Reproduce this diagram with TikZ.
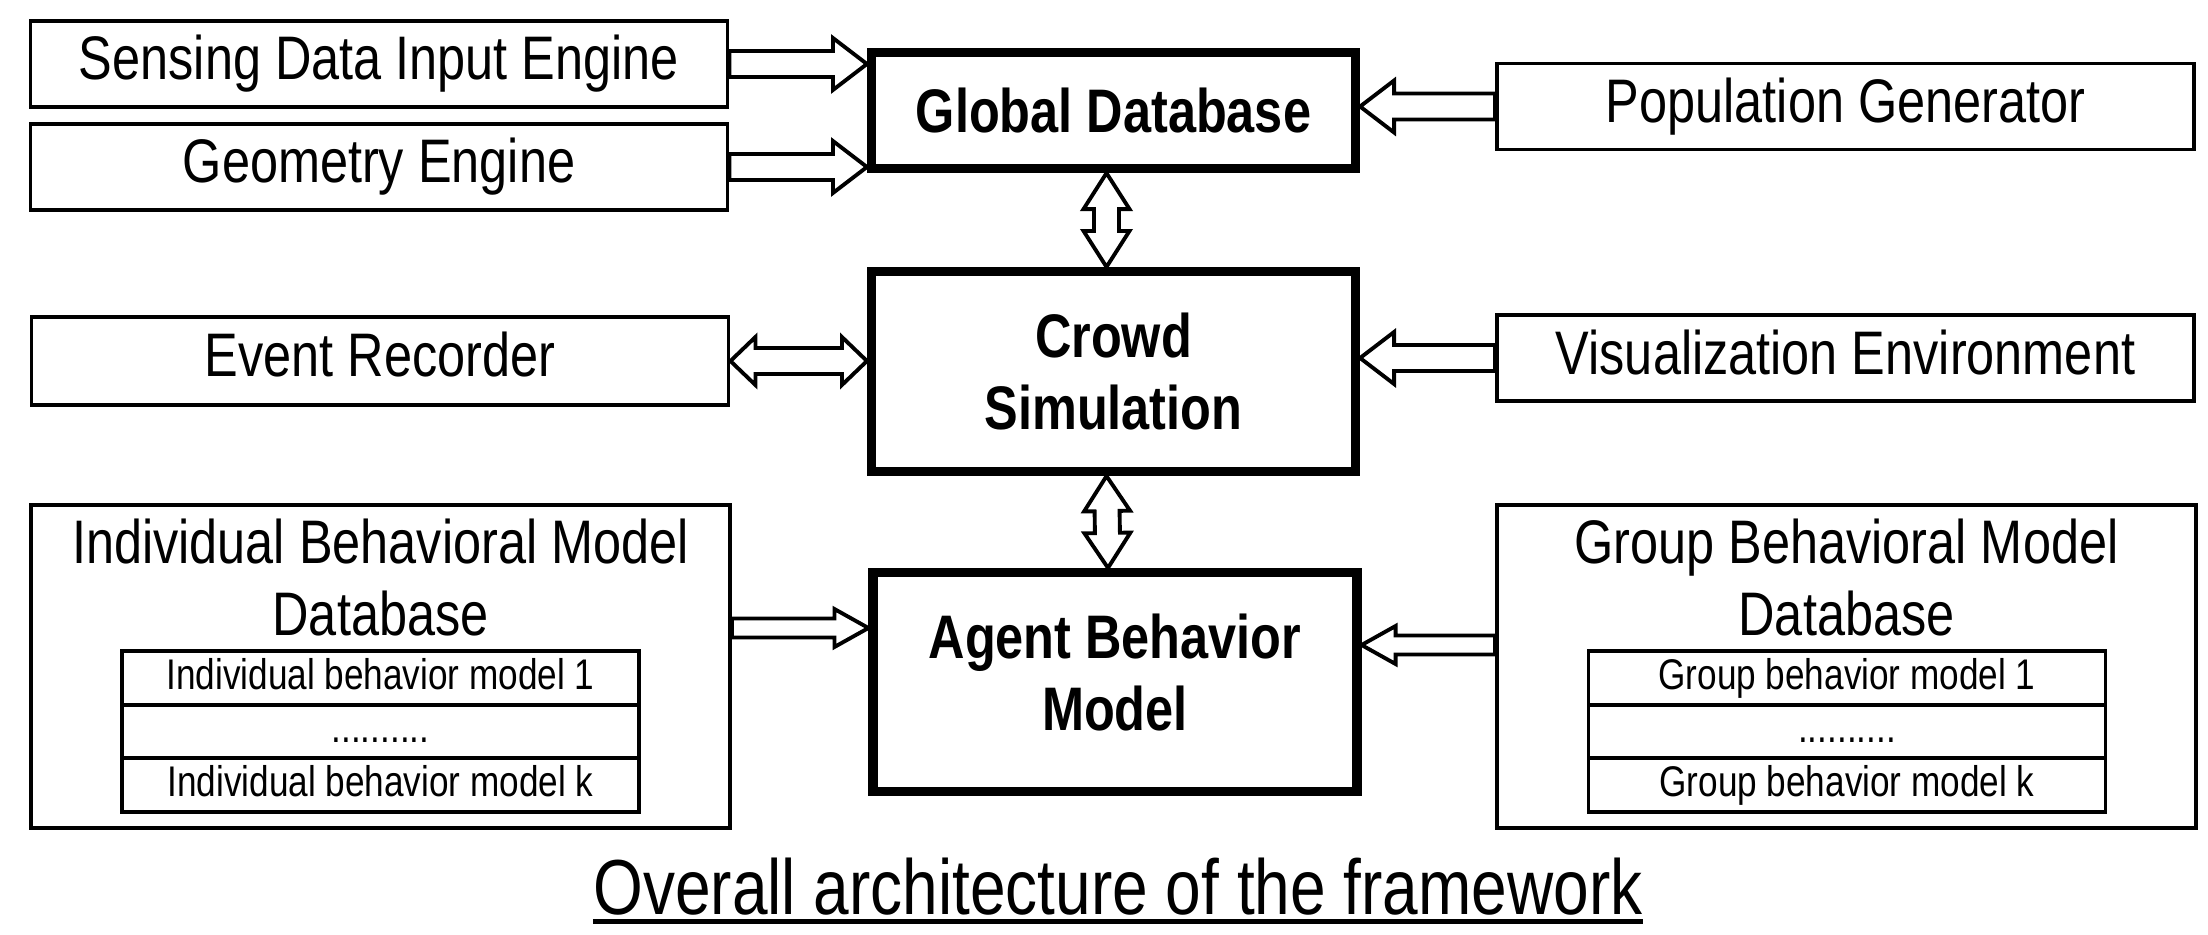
\documentclass[tikz,border=0pt]{standalone}
\usepackage{fontspec}
\setmainfont{Liberation Sans}[FakeStretch=0.82]
\usetikzlibrary{positioning,calc}

% hollow block arrows, drawn as outlines between two points
\tikzset{
  shaft/.store in=\shaftw, shaft=1.3mm,
  wing/.store in=\wingw, wing=2.6mm,
  tiplen/.store in=\tiplen, tiplen=3.4mm,
  fatarrow/.style={draw, line width=1.1pt, line join=miter, to path={
      ($(\tikztostart)!\shaftw!90:(\tikztotarget)$)
      -- ($($(\tikztotarget)!\tiplen!(\tikztostart)$)!\shaftw!90:(\tikztotarget)$)
      -- ($($(\tikztotarget)!\tiplen!(\tikztostart)$)!\wingw!90:(\tikztotarget)$)
      -- (\tikztotarget)
      -- ($($(\tikztotarget)!\tiplen!(\tikztostart)$)!\wingw!-90:(\tikztotarget)$)
      -- ($($(\tikztotarget)!\tiplen!(\tikztostart)$)!\shaftw!-90:(\tikztotarget)$)
      -- ($(\tikztostart)!\shaftw!-90:(\tikztotarget)$) -- cycle}},
  fatdouble/.style={draw, line width=1.1pt, line join=miter, to path={
      (\tikztostart)
      -- ($($(\tikztostart)!\tiplen!(\tikztotarget)$)!\wingw!90:(\tikztotarget)$)
      -- ($($(\tikztostart)!\tiplen!(\tikztotarget)$)!\shaftw!90:(\tikztotarget)$)
      -- ($($(\tikztotarget)!\tiplen!(\tikztostart)$)!\shaftw!90:(\tikztotarget)$)
      -- ($($(\tikztotarget)!\tiplen!(\tikztostart)$)!\wingw!90:(\tikztotarget)$)
      -- (\tikztotarget)
      -- ($($(\tikztotarget)!\tiplen!(\tikztostart)$)!\wingw!-90:(\tikztotarget)$)
      -- ($($(\tikztotarget)!\tiplen!(\tikztostart)$)!\shaftw!-90:(\tikztotarget)$)
      -- ($($(\tikztostart)!\tiplen!(\tikztotarget)$)!\shaftw!-90:(\tikztotarget)$)
      -- ($($(\tikztostart)!\tiplen!(\tikztotarget)$)!\wingw!-90:(\tikztotarget)$)
      -- cycle}}
}

\begin{document}
\begin{tikzpicture}[
  unit/.style={draw, line width=1.1pt, minimum width=6.97cm, minimum height=0.86cm, inner sep=0pt,
    text height=12.6pt, text depth=3.5pt, font=\fontsize{17.5}{20.5}\selectfont},
  core/.style={draw, line width=2.6pt, minimum width=4.84cm, inner sep=0pt, align=center,
    font=\fontsize{17.5}{20.5}\selectfont\bfseries},
  store/.style={draw, line width=1.1pt, minimum width=6.99cm, minimum height=3.23cm, inner sep=0pt},
  storetitle/.style={inner sep=0pt, align=center, font=\fontsize{17.5}{20.5}\selectfont},
  row/.style={draw, line width=1.1pt, minimum width=5.17cm, minimum height=0.535cm, inner sep=0pt,
    outer sep=0pt, text height=8.8pt, text depth=2.4pt, font=\fontsize{12.2}{14}\selectfont}
]
  \useasboundingbox (0,0) rectangle (22.08,9.34);

  % Core column
  \node[core, minimum height=1.16cm] (globaldb) at (11.135,8.235) {Global Database};
  \node[core, minimum height=2.0cm] (crowd) at (11.135,5.625) {Crowd\\Simulation};
  \node[core, minimum height=2.19cm, text depth=0.2cm] (agent) at (11.15,2.52) {Agent Behavior\\Model};

  % Left column
  \node[unit] (sensing) at (3.79,8.70) {Sensing Data Input Engine};
  \node[unit] (geometry) at (3.79,7.67) {Geometry Engine};
  \node[unit, minimum height=0.88cm] (event) at (3.80,5.73) {Event Recorder};

  % Right column
  \node[unit] (population) at (18.455,8.275) {Population Generator};
  \node[unit] (visual) at (18.455,5.76) {Visualization Environment};

  % Model databases
  \node[store] (inddb) at (3.805,2.675) {};
  \node[storetitle, below=0.15cm of inddb.north] (indtitle) {Individual Behavioral Model\\Database};
  \node[row] (ind1) at (3.805,2.56) {Individual behavior model 1};
  \node[row, below=0pt of ind1] (ind2) {..........};
  \node[row, below=0pt of ind2] (indk) {Individual behavior model k};

  \node[store] (groupdb) at (18.465,2.675) {};
  \node[storetitle, below=0.15cm of groupdb.north] (grouptitle) {Group Behavioral Model\\Database};
  \node[row] (group1) at (18.47,2.56) {Group behavior model 1};
  \node[row, below=0pt of group1] (group2) {..........};
  \node[row, below=0pt of group2] (groupk) {Group behavior model k};

  % Block arrows
  \draw[fatarrow] (sensing.east) to (sensing.east -| globaldb.west);
  \draw[fatarrow] (geometry.east) to (geometry.east -| globaldb.west);
  \draw[fatarrow] (population.west) to (population.west -| globaldb.east);
  \draw[fatdouble, shaft=1.25mm, wing=2.3mm, tiplen=3.6mm] ([xshift=-0.7mm]globaldb.south) to ([xshift=-0.7mm]crowd.north);
  \draw[fatdouble, tiplen=2.5mm, wing=2.4mm] (event.east) to (event.east -| crowd.west);
  \draw[fatarrow] (visual.west) to (visual.west -| crowd.east);
  \draw[fatdouble, shaft=1.25mm, wing=2.3mm, tiplen=3.5mm] ([xshift=-0.7mm]crowd.south) to ([xshift=-0.7mm]agent.north);
  \coordinate (indout) at ([yshift=3.85mm]inddb.east);
  \coordinate (groupout) at ([yshift=2.15mm]groupdb.west);
  \draw[fatarrow, shaft=0.95mm, wing=1.9mm] (indout) to (indout -| agent.west);
  \draw[fatarrow, shaft=0.95mm, wing=1.9mm] (groupout) to (groupout -| agent.east);

  % Caption
  \node[inner sep=0pt, anchor=base, font=\fontsize{22.2}{26}\selectfont] (caption) at (11.18,0.2)
    {Overall architecture of the framework};
  \draw[line width=1.4pt] ([yshift=-2.1pt]caption.base west) -- ([yshift=-2.1pt]caption.base east);
\end{tikzpicture}
\end{document}
